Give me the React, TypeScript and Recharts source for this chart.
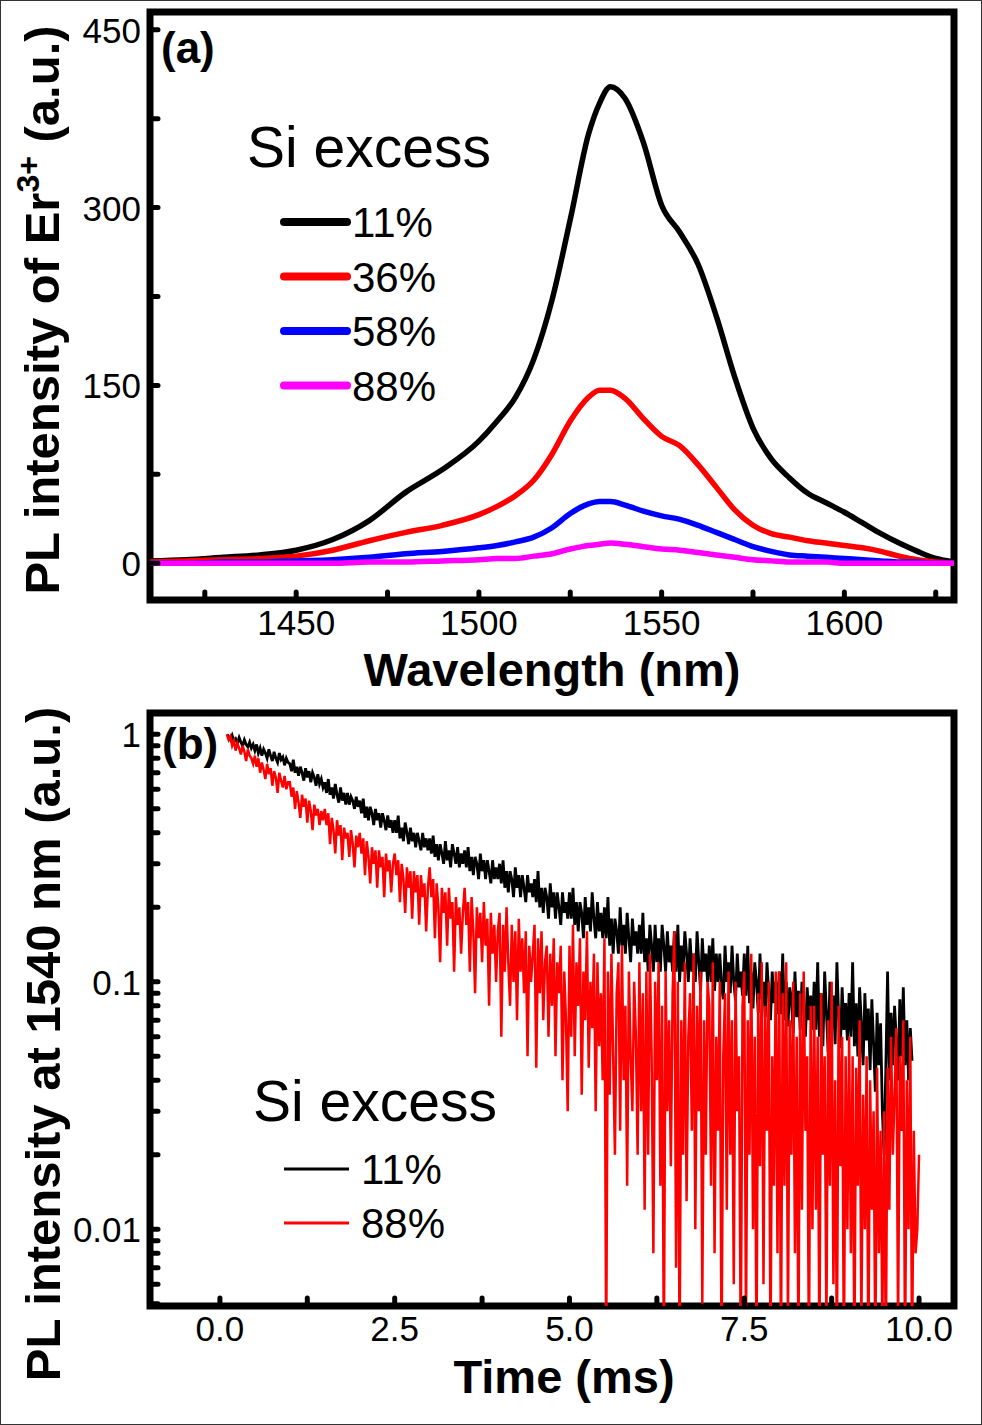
import { LineChart, Line, XAxis, YAxis, ReferenceArea, Legend } from "recharts";

// (a) PL spectra of Er3+ for four Si excess values
const WAVELENGTH = [
  1410, 1420, 1430, 1440, 1450, 1460, 1470, 1480, 1490, 1500,
  1505, 1510, 1515, 1520, 1525, 1530, 1533, 1536, 1540, 1545,
  1550, 1555, 1560, 1565, 1570, 1575, 1580, 1585, 1590, 1595,
  1600, 1605, 1610, 1615, 1620, 1625, 1630,
];
const PL_11 = [
  2, 3, 5, 7, 11, 20, 36, 60, 79, 103,
  120, 140, 172, 222, 290, 362, 388, 402, 392, 355,
  302, 279, 252, 208, 157, 114, 88, 72, 59, 51,
  43, 34, 25, 17, 10, 4, 1,
];
const PL_36 = [
  1, 2, 3, 4, 6, 11, 19, 26, 32, 41,
  48, 57, 70, 92, 120, 140, 146, 146, 139, 122,
  107, 99, 83, 64, 45, 32, 25, 22, 19, 17,
  15, 13, 10, 6, 3, 1, 0,
];
const PL_58 = [
  0, 0, 1, 1, 2, 3, 5, 8, 10, 13,
  15, 18, 22, 30, 42, 50, 52, 52, 49, 44,
  40, 37, 32, 26, 20, 14, 10, 7, 6, 5,
  4, 3, 2, 1, 1, 0, 0,
];
const PL_88 = [
  0, 0, 0, 0, 0, 0, 1, 1, 2, 3,
  4, 4, 6, 8, 12, 15, 16, 17, 16, 14,
  12, 11, 9, 7, 5, 3, 2, 1, 1, 1,
  0, 0, 0, 0, 0, 0, 0,
];

// (b) decay at 1540 nm, one reading every 0.025 ms from 0.1 ms (rows = 0.5 ms)
const DECAY_T0 = 0.1;
const DECAY_STEP = 0.025;
const DECAY_11 = [
  1.0, 0.98, 0.95, 0.99, 0.94, 0.96, 0.92, 0.97, 0.93, 0.9, 0.95, 0.91, 0.89, 0.93, 0.88, 0.91,
  0.86, 0.91, 0.84, 0.88, 0.82, 0.87, 0.84, 0.8, 0.87, 0.82, 0.78, 0.85, 0.8, 0.77, 0.84, 0.79, 0.81, 0.75, 0.8, 0.77,
  0.76, 0.71, 0.79, 0.7, 0.74, 0.68, 0.74, 0.7, 0.65, 0.73, 0.67, 0.71, 0.64, 0.7, 0.67, 0.62, 0.69, 0.63, 0.66, 0.61,
  0.64, 0.58, 0.66, 0.57, 0.61, 0.55, 0.63, 0.57, 0.53, 0.61, 0.54, 0.58, 0.52, 0.58, 0.52, 0.56, 0.54, 0.5, 0.56, 0.51,
  0.54, 0.48, 0.55, 0.46, 0.51, 0.45, 0.51, 0.48, 0.43, 0.5, 0.45, 0.48, 0.42, 0.48, 0.45, 0.41, 0.47, 0.42, 0.45, 0.4,
  0.45, 0.4, 0.47, 0.38, 0.42, 0.37, 0.44, 0.4, 0.36, 0.42, 0.37, 0.4, 0.35, 0.4, 0.37, 0.34, 0.4, 0.35, 0.38, 0.34,
  0.38, 0.33, 0.39, 0.32, 0.36, 0.31, 0.36, 0.33, 0.3, 0.37, 0.31, 0.34, 0.29, 0.36, 0.33, 0.3, 0.35, 0.29, 0.33, 0.3,
  0.34, 0.29, 0.35, 0.28, 0.32, 0.27, 0.32, 0.3, 0.26, 0.33, 0.28, 0.31, 0.26, 0.31, 0.28, 0.25, 0.31, 0.26, 0.29, 0.26,
  0.3, 0.25, 0.31, 0.24, 0.28, 0.23, 0.28, 0.26, 0.22, 0.29, 0.24, 0.27, 0.22, 0.27, 0.24, 0.21, 0.27, 0.23, 0.25, 0.22,
  0.26, 0.21, 0.28, 0.2, 0.24, 0.19, 0.24, 0.22, 0.18, 0.25, 0.2, 0.23, 0.18, 0.23, 0.2, 0.17, 0.23, 0.19, 0.21, 0.18,
  0.23, 0.18, 0.24, 0.17, 0.21, 0.16, 0.21, 0.19, 0.15, 0.22, 0.17, 0.2, 0.16, 0.23, 0.18, 0.15, 0.21, 0.16, 0.19, 0.15,
  0.2, 0.15, 0.22, 0.14, 0.18, 0.13, 0.18, 0.16, 0.13, 0.2, 0.14, 0.17, 0.13, 0.19, 0.15, 0.12, 0.18, 0.14, 0.16, 0.13,
  0.17, 0.13, 0.19, 0.12, 0.15, 0.11, 0.17, 0.14, 0.11, 0.17, 0.12, 0.15, 0.11, 0.17, 0.14, 0.11, 0.16, 0.12, 0.14, 0.11,
  0.16, 0.11, 0.17, 0.1, 0.14, 0.11, 0.16, 0.13, 0.1, 0.15, 0.11, 0.13, 0.1, 0.16, 0.12, 0.092, 0.15, 0.11, 0.13, 0.1,
  0.14, 0.1, 0.15, 0.092, 0.13, 0.1, 0.13, 0.096, 0.085, 0.14, 0.1, 0.12, 0.09, 0.14, 0.1, 0.084, 0.13, 0.095, 0.11, 0.088,
  0.13, 0.088, 0.14, 0.082, 0.11, 0.078, 0.12, 0.1, 0.075, 0.13, 0.085, 0.1, 0.072, 0.12, 0.09, 0.07, 0.11, 0.082, 0.1, 0.074,
  0.11, 0.074, 0.13, 0.07, 0.1, 0.066, 0.095, 0.085, 0.062, 0.11, 0.072, 0.092, 0.064, 0.1, 0.078, 0.06, 0.095, 0.07, 0.088, 0.064,
  0.1, 0.064, 0.12, 0.06, 0.09, 0.055, 0.11, 0.075, 0.052, 0.1, 0.066, 0.088, 0.056, 0.12, 0.072, 0.054, 0.095, 0.064, 0.082, 0.058,
  0.09, 0.06, 0.12, 0.055, 0.082, 0.05, 0.095, 0.068, 0.046, 0.09, 0.058, 0.078, 0.044, 0.085, 0.056, 0.036, 0.075, 0.046, 0.068, 0.03,
  0.02, 0.045, 0.11, 0.04, 0.075, 0.046, 0.08, 0.058, 0.04, 0.085, 0.05, 0.095, 0.046, 0.07, 0.04, 0.065, 0.048,
];
const DECAY_88 = [
  1.0, 0.95, 0.98, 0.9, 0.94, 0.86, 0.92, 0.88, 0.83, 0.9, 0.85, 0.78, 0.87, 0.82, 0.8, 0.76,
  0.82, 0.74, 0.8, 0.7, 0.77, 0.72, 0.66, 0.76, 0.69, 0.73, 0.62, 0.71, 0.67, 0.58, 0.7, 0.65, 0.61, 0.68, 0.6, 0.64,
  0.64, 0.56, 0.61, 0.5, 0.59, 0.53, 0.46, 0.57, 0.51, 0.55, 0.44, 0.54, 0.49, 0.41, 0.52, 0.47, 0.5, 0.43, 0.49, 0.45,
  0.5, 0.43, 0.48, 0.36, 0.46, 0.41, 0.33, 0.45, 0.39, 0.43, 0.31, 0.42, 0.38, 0.4, 0.32, 0.41, 0.36, 0.29, 0.39, 0.35,
  0.4, 0.33, 0.38, 0.27, 0.37, 0.32, 0.25, 0.35, 0.3, 0.34, 0.24, 0.34, 0.29, 0.32, 0.22, 0.33, 0.28, 0.31, 0.23, 0.3,
  0.33, 0.27, 0.31, 0.21, 0.3, 0.26, 0.19, 0.29, 0.24, 0.28, 0.18, 0.28, 0.23, 0.27, 0.17, 0.27, 0.22, 0.25, 0.16, 0.24,
  0.29, 0.22, 0.26, 0.15, 0.25, 0.2, 0.12, 0.24, 0.19, 0.23, 0.14, 0.24, 0.18, 0.21, 0.11, 0.22, 0.17, 0.2, 0.13, 0.19,
  0.24, 0.17, 0.21, 0.11, 0.22, 0.16, 0.09, 0.2, 0.15, 0.19, 0.12, 0.21, 0.14, 0.18, 0.08, 0.19, 0.13, 0.17, 0.1, 0.16,
  0.19, 0.06, 0.17, 0.11, 0.2, 0.12, 0.08, 0.17, 0.1, 0.16, 0.07, 0.18, 0.11, 0.15, 0.09, 0.16, 0.05, 0.14, 0.1, 0.13,
  0.17, 0.045, 0.15, 0.09, 0.16, 0.07, 0.12, 0.14, 0.06, 0.13, 0.08, 0.15, 0.05, 0.12, 0.09, 0.14, 0.04, 0.11, 0.07, 0.03,
  0.14, 0.06, 0.17, 0.05, 0.12, 0.08, 0.15, 0.035, 0.11, 0.07, 0.16, 0.045, 0.1, 0.065, 0.13, 0.03, 0.12, 0.055, 0.09, 0.04,
  0.15, 0.003, 0.11, 0.035, 0.13, 0.05, 0.02, 0.09, 0.12, 0.025, 0.14, 0.04, 0.08, 0.015, 0.11, 0.05, 0.03, 0.1, 0.06, 0.02,
  0.12, 0.03, 0.09, 0.012, 0.11, 0.02, 0.13, 0.05, 0.008, 0.1, 0.04, 0.12, 0.015, 0.08, 0.003, 0.11, 0.03, 0.07, 0.018, 0.09,
  0.16, 0.007, 0.1, 0.003, 0.07, 0.02, 0.12, 0.013, 0.06, 0.09, 0.025, 0.13, 0.01, 0.08, 0.03, 0.11, 0.005, 0.07, 0.02, 0.1,
  0.08, 0.015, 0.12, 0.008, 0.06, 0.025, 0.1, 0.003, 0.05, 0.09, 0.012, 0.11, 0.02, 0.07, 0.006, 0.1, 0.03, 0.05, 0.003, 0.08,
  0.11, 0.004, 0.07, 0.02, 0.13, 0.01, 0.06, 0.003, 0.09, 0.018, 0.12, 0.006, 0.08, 0.025, 0.1, 0.003, 0.05, 0.015, 0.11, 0.008,
  0.11, 0.003, 0.09, 0.015, 0.12, 0.004, 0.07, 0.02, 0.1, 0.008, 0.06, 0.003, 0.09, 0.012, 0.11, 0.025, 0.05, 0.003, 0.08, 0.01,
  0.08, 0.012, 0.06, 0.003, 0.09, 0.02, 0.05, 0.004, 0.07, 0.015, 0.1, 0.006, 0.04, 0.003, 0.08, 0.018, 0.06, 0.003, 0.05, 0.01,
  0.06, 0.008, 0.05, 0.003, 0.045, 0.015, 0.07, 0.004, 0.035, 0.01, 0.05, 0.003, 0.04, 0.012, 0.03, 0.003, 0.045, 0.008, 0.025, 0.004,
  0.03, 0.003, 0.045, 0.012, 0.06, 0.02, 0.035, 0.065, 0.004, 0.05, 0.025, 0.07, 0.003, 0.04, 0.01, 0.06, 0.003, 0.025, 0.008, 0.01,
  0.02,
];

const TOP_X_MAJOR = [1450, 1500, 1550, 1600];
const TOP_X_MINOR = [1425, 1475, 1525, 1575, 1625];
const TOP_Y_MAJOR = [0, 150, 300, 450];
const TOP_Y_MINOR = [75, 225, 375];
const BOT_X_MAJOR = [0, 2.5, 5, 7.5, 10];
const BOT_X_MINOR = [1.25, 3.75, 6.25, 8.75];
const BOT_Y_MAJOR = [0.01, 0.1, 1];
const BOT_Y_MINOR = [
  0.005, 0.006, 0.007, 0.008, 0.009,
  0.02, 0.03, 0.04, 0.05, 0.06, 0.07, 0.08, 0.09,
  0.2, 0.3, 0.4, 0.5, 0.6, 0.7, 0.8, 0.9,
];

const spectrumRows = WAVELENGTH.map((w, i) => ({
  w,
  s11: PL_11[i],
  s36: PL_36[i],
  s58: PL_58[i],
  s88: PL_88[i],
}));

const decayRows = DECAY_88.map((v, i) => ({
  t: +(DECAY_T0 + i * DECAY_STEP).toFixed(3),
  s11: DECAY_11[i],
  s88: v,
}));

const FONT = '"Liberation Sans", Arial, Helvetica, sans-serif';
const PLOT_LEFT = 150;

const xTick = (plotBottom: number, labelY: number, major: number[], fmt: (v: number) => string) =>
  (p: any) => {
    const v = p.payload.value;
    return (
      <g>
        <line x1={p.x} x2={p.x} y1={plotBottom} y2={plotBottom - 8} stroke="#000" strokeWidth={5} strokeLinecap="round" />
        {major.includes(v) && (
          <text x={p.x} y={labelY} textAnchor="middle" fontFamily={FONT} fontSize={35} fill="#000">
            {fmt(v)}
          </text>
        )}
      </g>
    );
  };

const yTick = (major: number[], fmt: (v: number) => string) => (p: any) => {
  const v = p.payload.value;
  return (
    <g>
      <line x1={PLOT_LEFT} x2={PLOT_LEFT + 8} y1={p.y} y2={p.y} stroke="#000" strokeWidth={5} strokeLinecap="round" />
      {major.includes(v) && (
        <text x={141} y={p.y + 13} textAnchor="end" fontFamily={FONT} fontSize={35} fill="#000">
          {fmt(v)}
        </text>
      )}
    </g>
  );
};

const legendBox = (titleX: number, titleY: number, rowY: number, rowGap: number, lineX: [number, number], textX: number, lineW: number) =>
  (props: any) => (
    <svg width={280} height={340} style={{ overflow: "visible", display: "block" }}>
      <text x={titleX} y={titleY} fontFamily={FONT} fontSize={57} fill="#000">
        Si excess
      </text>
      {(props.payload || []).map((e: any, i: number) => (
        <g key={e.value}>
          <line
            x1={lineX[0]}
            x2={lineX[1]}
            y1={rowY + i * rowGap}
            y2={rowY + i * rowGap}
            stroke={e.color}
            strokeWidth={lineW}
            strokeLinecap={lineW > 4 ? "round" : "butt"}
          />
          <text x={textX} y={rowY + i * rowGap + 15} fontFamily={FONT} fontSize={42} fill="#000">
            {e.value}
          </text>
        </g>
      ))}
    </svg>
  );

const SpectrumChart = () => (
  <LineChart width={982} height={700} data={spectrumRows} margin={{ top: 12, right: 28, bottom: 60, left: 70 }}>
    <XAxis
      dataKey="w"
      type="number"
      domain={[1410, 1630]}
      ticks={[...TOP_X_MAJOR, ...TOP_X_MINOR].sort((a, b) => a - b)}
      interval={0}
      height={40}
      axisLine={false}
      tickLine={false}
      tick={xTick(600, 635, TOP_X_MAJOR, (v) => String(v))}
      label={() => (
        <text x={552} y={686} textAnchor="middle" fontFamily={FONT} fontWeight="bold" fontSize={47} fill="#000">
          Wavelength (nm)
        </text>
      )}
    />
    <YAxis
      type="number"
      domain={[-31, 465]}
      ticks={[...TOP_Y_MAJOR, ...TOP_Y_MINOR].sort((a, b) => a - b)}
      interval={0}
      width={80}
      axisLine={false}
      tickLine={false}
      tick={yTick(TOP_Y_MAJOR, (v) => String(v))}
      label={() => (
        <g>
          <text
            x={59}
            y={310}
            transform="rotate(-90 59 310)"
            textAnchor="middle"
            fontFamily={FONT}
            fontWeight="bold"
            fontSize={49}
            fill="#000"
          >
            PL intensity of Er
            <tspan dy={-20} fontSize={32}>3+</tspan>
            <tspan dy={20}> (a.u.)</tspan>
          </text>
          <text x={161} y={63} fontFamily={FONT} fontWeight="bold" fontSize={44} fill="#000">
            (a)
          </text>
        </g>
      )}
    />
    <Line type="monotone" dataKey="s11" name="11%" stroke="#000000" strokeWidth={5.5} dot={false} isAnimationActive={false} />
    <Line type="monotone" dataKey="s36" name="36%" stroke="#ff0000" strokeWidth={5.5} dot={false} isAnimationActive={false} />
    <Line type="monotone" dataKey="s58" name="58%" stroke="#0000ff" strokeWidth={5.5} dot={false} isAnimationActive={false} />
    <Line type="monotone" dataKey="s88" name="88%" stroke="#ff00ff" strokeWidth={5.5} dot={false} isAnimationActive={false} />
    <ReferenceArea x1={1410} x2={1630} y1={-31} y2={465} fill="none" stroke="#000" strokeWidth={7} ifOverflow="visible" />
    <Legend
      layout="vertical"
      align="center"
      verticalAlign="middle"
      wrapperStyle={{ left: 240, top: 100, width: 280, height: 340 }}
      content={legendBox(7, 67, 122, 54.5, [44, 107], 112, 8)}
    />
  </LineChart>
);

const DecayChart = () => (
  <LineChart width={982} height={725} data={decayRows} margin={{ top: 13, right: 28, bottom: 79, left: 70 }}>
    <XAxis
      dataKey="t"
      type="number"
      domain={[-1, 10.5]}
      allowDataOverflow
      ticks={[...BOT_X_MAJOR, ...BOT_X_MINOR].sort((a, b) => a - b)}
      interval={0}
      height={40}
      axisLine={false}
      tickLine={false}
      tick={xTick(606, 641, BOT_X_MAJOR, (v) => v.toFixed(1))}
      label={() => (
        <text x={564} y={693} textAnchor="middle" fontFamily={FONT} fontWeight="bold" fontSize={47} fill="#000">
          Time (ms)
        </text>
      )}
    />
    <YAxis
      type="number"
      scale="log"
      domain={[0.0049, 1.22]}
      allowDataOverflow
      ticks={[...BOT_Y_MAJOR, ...BOT_Y_MINOR].sort((a, b) => a - b)}
      interval={0}
      width={80}
      axisLine={false}
      tickLine={false}
      tick={yTick(BOT_Y_MAJOR, (v) => String(v))}
      label={() => (
        <g>
          <text
            x={60}
            y={344}
            transform="rotate(-90 60 344)"
            textAnchor="middle"
            fontFamily={FONT}
            fontWeight="bold"
            fontSize={49}
            fill="#000"
          >
            PL intensity at 1540 nm (a.u.)
          </text>
          <text x={162} y={59} fontFamily={FONT} fontWeight="bold" fontSize={44} fill="#000">
            (b)
          </text>
        </g>
      )}
    />
    <Line type="linear" dataKey="s11" name="11%" stroke="#000000" strokeWidth={2.8} dot={false} isAnimationActive={false} />
    <Line type="linear" dataKey="s88" name="88%" stroke="#ff0000" strokeWidth={2.5} dot={false} isAnimationActive={false} />
    <ReferenceArea x1={-1} x2={10.5} y1={0.0049} y2={1.22} fill="none" stroke="#000" strokeWidth={7} ifOverflow="visible" />
    <Legend
      layout="vertical"
      align="center"
      verticalAlign="middle"
      wrapperStyle={{ left: 240, top: 360, width: 280, height: 340 }}
      content={legendBox(13, 61, 109, 54, [44, 109], 121, 3)}
    />
  </LineChart>
);

export default function App() {
  return (
    <div
      style={{
        position: "absolute",
        left: 0,
        top: 0,
        width: 982,
        height: 1425,
        background: "#fff",
        boxSizing: "border-box",
        border: "1px solid #333",
        overflow: "hidden",
      }}
    >
      <div style={{ position: "absolute", left: -1, top: -1 }}>
        <SpectrumChart />
      </div>
      <div style={{ position: "absolute", left: -1, top: 699 }}>
        <DecayChart />
      </div>
    </div>
  );
}
